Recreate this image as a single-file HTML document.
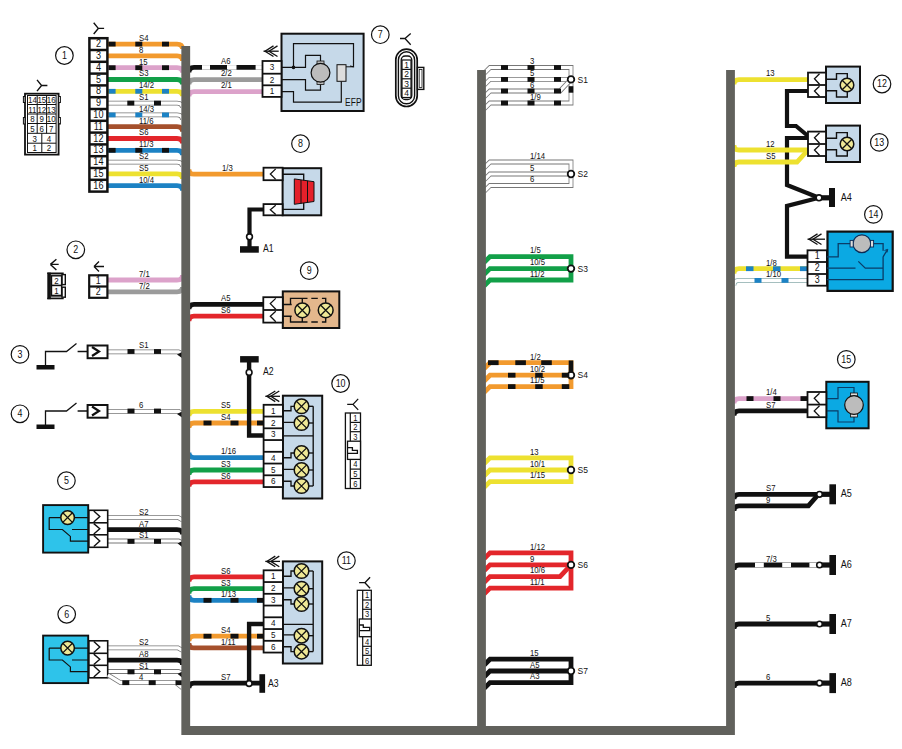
<!DOCTYPE html><html><head><meta charset="utf-8"><style>html,body{margin:0;padding:0;background:#fff;}svg{display:block;font-family:"Liberation Sans",sans-serif;}</style></head><body>
<svg width="902" height="749" viewBox="0 0 902 749">
<path d="M108,44.10H177Q182.5,44.10 182.5,49.10" stroke="#f29a2e" stroke-width="4.8" fill="none" stroke-linejoin="miter"/>
<rect x="108.60" y="41.70" width="7" height="4.8" fill="#111"/>
<rect x="135.30" y="41.70" width="7" height="4.8" fill="#111"/>
<rect x="162.00" y="41.70" width="7" height="4.8" fill="#111"/>
<text transform="translate(139.00,40.90) scale(0.86,1)" font-size="9.02" text-anchor="start" fill="#111">S4</text>
<path d="M108,55.90H177Q182.5,55.90 182.5,60.90" stroke="#f29a2e" stroke-width="4.8" fill="none" stroke-linejoin="miter"/>
<text transform="translate(139.00,52.70) scale(0.86,1)" font-size="9.02" text-anchor="start" fill="#111">8</text>
<path d="M108,67.70H177Q182.5,67.70 182.5,72.70" stroke="#dca2ca" stroke-width="4.8" fill="none" stroke-linejoin="miter"/>
<rect x="108.60" y="65.30" width="7" height="4.8" fill="#111"/>
<rect x="135.30" y="65.30" width="7" height="4.8" fill="#111"/>
<rect x="162.00" y="65.30" width="7" height="4.8" fill="#111"/>
<text transform="translate(139.00,64.50) scale(0.86,1)" font-size="9.02" text-anchor="start" fill="#111">15</text>
<path d="M108,79.50H177Q182.5,79.50 182.5,84.50" stroke="#12a048" stroke-width="4.8" fill="none" stroke-linejoin="miter"/>
<text transform="translate(139.00,76.30) scale(0.86,1)" font-size="9.02" text-anchor="start" fill="#111">S3</text>
<path d="M108,91.30H177Q182.5,91.30 182.5,96.30" stroke="#ede130" stroke-width="4.8" fill="none" stroke-linejoin="miter"/>
<rect x="108.60" y="88.90" width="7" height="4.8" fill="#1c82c4"/>
<rect x="135.30" y="88.90" width="7" height="4.8" fill="#1c82c4"/>
<rect x="162.00" y="88.90" width="7" height="4.8" fill="#1c82c4"/>
<text transform="translate(139.00,88.10) scale(0.86,1)" font-size="9.02" text-anchor="start" fill="#111">14/2</text>
<path d="M108,103.10H177Q182.5,103.10 182.5,108.10" stroke="#777" stroke-width="4.8" fill="none" stroke-linejoin="miter"/>
<path d="M108,103.10H177Q182.5,103.10 182.5,108.10" stroke="#fff" stroke-width="3.1999999999999997" fill="none" stroke-linejoin="miter"/>
<rect x="127.30" y="100.70" width="7" height="4.8" fill="#111"/>
<rect x="154.00" y="100.70" width="7" height="4.8" fill="#111"/>
<text transform="translate(139.00,99.90) scale(0.86,1)" font-size="9.02" text-anchor="start" fill="#111">S1</text>
<path d="M108,114.90H177Q182.5,114.90 182.5,119.90" stroke="#777" stroke-width="4.8" fill="none" stroke-linejoin="miter"/>
<path d="M108,114.90H177Q182.5,114.90 182.5,119.90" stroke="#fff" stroke-width="3.1999999999999997" fill="none" stroke-linejoin="miter"/>
<rect x="108.60" y="112.50" width="7" height="4.8" fill="#1c82c4"/>
<rect x="135.30" y="112.50" width="7" height="4.8" fill="#1c82c4"/>
<rect x="162.00" y="112.50" width="7" height="4.8" fill="#1c82c4"/>
<text transform="translate(139.00,111.70) scale(0.86,1)" font-size="9.02" text-anchor="start" fill="#111">14/3</text>
<path d="M108,126.70H177Q182.5,126.70 182.5,131.70" stroke="#a5502c" stroke-width="4.8" fill="none" stroke-linejoin="miter"/>
<text transform="translate(139.00,123.50) scale(0.86,1)" font-size="9.02" text-anchor="start" fill="#111">11/6</text>
<path d="M108,138.50H177Q182.5,138.50 182.5,143.50" stroke="#e3262b" stroke-width="4.8" fill="none" stroke-linejoin="miter"/>
<text transform="translate(139.00,135.30) scale(0.86,1)" font-size="9.02" text-anchor="start" fill="#111">S6</text>
<path d="M108,150.30H177Q182.5,150.30 182.5,155.30" stroke="#1c82c4" stroke-width="4.8" fill="none" stroke-linejoin="miter"/>
<rect x="108.60" y="147.90" width="7" height="4.8" fill="#111"/>
<rect x="135.30" y="147.90" width="7" height="4.8" fill="#111"/>
<rect x="162.00" y="147.90" width="7" height="4.8" fill="#111"/>
<text transform="translate(139.00,147.10) scale(0.86,1)" font-size="9.02" text-anchor="start" fill="#111">11/3</text>
<path d="M108,162.10H177Q182.5,162.10 182.5,167.10" stroke="#777" stroke-width="4.8" fill="none" stroke-linejoin="miter"/>
<path d="M108,162.10H177Q182.5,162.10 182.5,167.10" stroke="#fff" stroke-width="3.1999999999999997" fill="none" stroke-linejoin="miter"/>
<text transform="translate(139.00,158.90) scale(0.86,1)" font-size="9.02" text-anchor="start" fill="#111">S2</text>
<path d="M108,173.90H177Q182.5,173.90 182.5,178.90" stroke="#ede130" stroke-width="4.8" fill="none" stroke-linejoin="miter"/>
<text transform="translate(139.00,170.70) scale(0.86,1)" font-size="9.02" text-anchor="start" fill="#111">S5</text>
<path d="M108,185.70H177Q182.5,185.70 182.5,190.70" stroke="#1c82c4" stroke-width="4.8" fill="none" stroke-linejoin="miter"/>
<text transform="translate(139.00,182.50) scale(0.86,1)" font-size="9.02" text-anchor="start" fill="#111">10/4</text>
<rect x="89.4" y="38.2" width="18.00" height="153.40" fill="#fff" stroke="#111" stroke-width="2.5"/>
<path d="M89.4,50.0H107.4" stroke="#111" stroke-width="2.5" fill="none"/>
<path d="M89.4,61.800000000000004H107.4" stroke="#111" stroke-width="2.5" fill="none"/>
<path d="M89.4,73.60000000000001H107.4" stroke="#111" stroke-width="2.5" fill="none"/>
<path d="M89.4,85.4H107.4" stroke="#111" stroke-width="2.5" fill="none"/>
<path d="M89.4,97.2H107.4" stroke="#111" stroke-width="2.5" fill="none"/>
<path d="M89.4,109.00000000000001H107.4" stroke="#111" stroke-width="2.5" fill="none"/>
<path d="M89.4,120.80000000000001H107.4" stroke="#111" stroke-width="2.5" fill="none"/>
<path d="M89.4,132.60000000000002H107.4" stroke="#111" stroke-width="2.5" fill="none"/>
<path d="M89.4,144.4H107.4" stroke="#111" stroke-width="2.5" fill="none"/>
<path d="M89.4,156.2H107.4" stroke="#111" stroke-width="2.5" fill="none"/>
<path d="M89.4,168.0H107.4" stroke="#111" stroke-width="2.5" fill="none"/>
<path d="M89.4,179.8H107.4" stroke="#111" stroke-width="2.5" fill="none"/>
<text transform="translate(98.40,47.20) scale(0.86,1)" font-size="10.56" text-anchor="middle" fill="#111">2</text>
<text transform="translate(98.40,59.00) scale(0.86,1)" font-size="10.56" text-anchor="middle" fill="#111">3</text>
<text transform="translate(98.40,70.80) scale(0.86,1)" font-size="10.56" text-anchor="middle" fill="#111">4</text>
<text transform="translate(98.40,82.60) scale(0.86,1)" font-size="10.56" text-anchor="middle" fill="#111">5</text>
<text transform="translate(98.40,94.40) scale(0.86,1)" font-size="10.56" text-anchor="middle" fill="#111">8</text>
<text transform="translate(98.40,106.20) scale(0.86,1)" font-size="10.56" text-anchor="middle" fill="#111">9</text>
<text transform="translate(98.40,118.00) scale(0.86,1)" font-size="10.56" text-anchor="middle" fill="#111">10</text>
<text transform="translate(98.40,129.80) scale(0.86,1)" font-size="10.56" text-anchor="middle" fill="#111">11</text>
<text transform="translate(98.40,141.60) scale(0.86,1)" font-size="10.56" text-anchor="middle" fill="#111">12</text>
<text transform="translate(98.40,153.40) scale(0.86,1)" font-size="10.56" text-anchor="middle" fill="#111">13</text>
<text transform="translate(98.40,165.20) scale(0.86,1)" font-size="10.56" text-anchor="middle" fill="#111">14</text>
<text transform="translate(98.40,177.00) scale(0.86,1)" font-size="10.56" text-anchor="middle" fill="#111">15</text>
<text transform="translate(98.40,188.80) scale(0.86,1)" font-size="10.56" text-anchor="middle" fill="#111">16</text>
<path d="M93.7,22.799999999999997L98.3,28.4L93.7,34.0M98.3,28.4H104.1" stroke="#111" stroke-width="1.4" fill="none"/>
<circle cx="64.4" cy="55.5" r="8.8" fill="#fff" stroke="#111" stroke-width="1.2"/>
<text transform="translate(64.40,58.90) scale(0.86,1)" font-size="10.34" text-anchor="middle" fill="#111">1</text>
<rect x="25" y="93.7" width="33.60" height="60.90" fill="#fff" stroke="#111" stroke-width="1.8"/>
<rect x="27.5" y="95.5" width="28.60" height="57.00" fill="#fff" stroke="#111" stroke-width="1.0"/>
<rect x="23.4" y="96.5" width="1.60" height="6.00" fill="#fff" stroke="#111" stroke-width="1.0"/>
<rect x="58.6" y="96.5" width="1.80" height="6.00" fill="#fff" stroke="#111" stroke-width="1.0"/>
<rect x="23.4" y="117.5" width="1.60" height="6.50" fill="#fff" stroke="#111" stroke-width="1.0"/>
<rect x="58.6" y="117.5" width="1.80" height="6.50" fill="#fff" stroke="#111" stroke-width="1.0"/>
<path d="M27.5,104.5H56.1" stroke="#111" stroke-width="1.0" fill="none"/>
<path d="M27.5,114H56.1" stroke="#111" stroke-width="1.0" fill="none"/>
<path d="M27.5,123.5H56.1" stroke="#111" stroke-width="1.0" fill="none"/>
<path d="M27.5,133.3H56.1" stroke="#111" stroke-width="1.0" fill="none"/>
<path d="M27.5,143.2H56.1" stroke="#111" stroke-width="1.0" fill="none"/>
<path d="M37.2,95.5V104.5M46.6,95.5V104.5" stroke="#111" stroke-width="1.0" fill="none"/>
<path d="M37.2,104.5V114M46.6,104.5V114" stroke="#111" stroke-width="1.0" fill="none"/>
<path d="M37.2,114V123.5M46.6,114V123.5" stroke="#111" stroke-width="1.0" fill="none"/>
<path d="M37.2,123.5V133.3M46.6,123.5V133.3" stroke="#111" stroke-width="1.0" fill="none"/>
<path d="M41.8,133.3V143.2" stroke="#111" stroke-width="1.0" fill="none"/>
<path d="M41.8,143.2V152.5" stroke="#111" stroke-width="1.0" fill="none"/>
<text transform="translate(32.40,103.30) scale(0.86,1)" font-size="9.24" text-anchor="middle" fill="#111">14</text>
<text transform="translate(41.80,103.30) scale(0.86,1)" font-size="9.24" text-anchor="middle" fill="#111">15</text>
<text transform="translate(51.20,103.30) scale(0.86,1)" font-size="9.24" text-anchor="middle" fill="#111">16</text>
<text transform="translate(32.40,112.55) scale(0.86,1)" font-size="9.24" text-anchor="middle" fill="#111">11</text>
<text transform="translate(41.80,112.55) scale(0.86,1)" font-size="9.24" text-anchor="middle" fill="#111">12</text>
<text transform="translate(51.20,112.55) scale(0.86,1)" font-size="9.24" text-anchor="middle" fill="#111">13</text>
<text transform="translate(32.40,122.05) scale(0.86,1)" font-size="9.24" text-anchor="middle" fill="#111">8</text>
<text transform="translate(41.80,122.05) scale(0.86,1)" font-size="9.24" text-anchor="middle" fill="#111">9</text>
<text transform="translate(51.20,122.05) scale(0.86,1)" font-size="9.24" text-anchor="middle" fill="#111">10</text>
<text transform="translate(32.40,131.70) scale(0.86,1)" font-size="9.24" text-anchor="middle" fill="#111">5</text>
<text transform="translate(41.80,131.70) scale(0.86,1)" font-size="9.24" text-anchor="middle" fill="#111">6</text>
<text transform="translate(51.20,131.70) scale(0.86,1)" font-size="9.24" text-anchor="middle" fill="#111">7</text>
<text transform="translate(34.60,141.55) scale(0.86,1)" font-size="9.24" text-anchor="middle" fill="#111">3</text>
<text transform="translate(49.00,141.55) scale(0.86,1)" font-size="9.24" text-anchor="middle" fill="#111">4</text>
<text transform="translate(34.60,151.15) scale(0.86,1)" font-size="9.24" text-anchor="middle" fill="#111">1</text>
<text transform="translate(49.00,151.15) scale(0.86,1)" font-size="9.24" text-anchor="middle" fill="#111">2</text>
<path d="M37.0,79.9L41.6,85.5L37.0,91.1M41.6,85.5H47.4" stroke="#111" stroke-width="1.4" fill="none"/>
<circle cx="75.8" cy="249.8" r="8.8" fill="#fff" stroke="#111" stroke-width="1.2"/>
<text transform="translate(75.80,253.20) scale(0.86,1)" font-size="10.34" text-anchor="middle" fill="#111">2</text>
<path d="M108,280H177Q182.5,280 182.5,275" stroke="#dca2ca" stroke-width="4.8" fill="none" stroke-linejoin="miter"/>
<path d="M108,291.8H177Q182.5,291.8 182.5,287" stroke="#9b9b9b" stroke-width="4.8" fill="none" stroke-linejoin="miter"/>
<text transform="translate(139.00,276.90) scale(0.86,1)" font-size="9.02" text-anchor="start" fill="#111">7/1</text>
<text transform="translate(139.00,288.70) scale(0.86,1)" font-size="9.02" text-anchor="start" fill="#111">7/2</text>
<rect x="89.2" y="275.3" width="18.20" height="22.50" fill="#fff" stroke="#111" stroke-width="2.2"/>
<path d="M89.2,286.5H107.4" stroke="#111" stroke-width="2.2" fill="none"/>
<text transform="translate(98.30,284.00) scale(0.86,1)" font-size="10.34" text-anchor="middle" fill="#111">1</text>
<text transform="translate(98.30,295.25) scale(0.86,1)" font-size="10.34" text-anchor="middle" fill="#111">2</text>
<path d="M94,266.5H104M94,266.5L99,261.5M94,266.5L99,271.5" stroke="#111" stroke-width="1.3" fill="none"/>
<rect x="47.3" y="272.6" width="3.6" height="26.6" fill="#111"/>
<path d="M47.3,273.3H63.7M47.3,298.5H63.7" stroke="#111" stroke-width="1.6" fill="none"/>
<rect x="62" y="274.6" width="3.30" height="10.00" fill="#fff" stroke="#111" stroke-width="1.4"/>
<rect x="62" y="287.2" width="3.30" height="10.00" fill="#fff" stroke="#111" stroke-width="1.4"/>
<path d="M50.9,275H62M50.9,296.8H62" stroke="#111" stroke-width="0.9" fill="none"/>
<rect x="51.5" y="275.8" width="10.10" height="9.70" fill="#fff" stroke="#111" stroke-width="1.4"/>
<rect x="51.5" y="285.5" width="10.10" height="9.90" fill="#fff" stroke="#111" stroke-width="1.4"/>
<text transform="translate(56.50,283.60) scale(0.86,1)" font-size="9.24" text-anchor="middle" fill="#111">2</text>
<text transform="translate(56.50,293.60) scale(0.86,1)" font-size="9.24" text-anchor="middle" fill="#111">1</text>
<path d="M50.4,264.4H58.7M50.4,264.4L56.4,259.3M50.4,264.4L56.4,270" stroke="#111" stroke-width="1.4" fill="none"/>
<circle cx="20" cy="354.4" r="8.8" fill="#fff" stroke="#111" stroke-width="1.2"/>
<text transform="translate(20.00,357.80) scale(0.86,1)" font-size="10.34" text-anchor="middle" fill="#111">3</text>
<rect x="36.5" y="365.0" width="18" height="4.5" fill="#111"/>
<path d="M45.5,365.5V351.5H66.5L76.5,343.5M77.6,351.5H87.6" stroke="#111" stroke-width="1.3" fill="none"/>
<path d="M107,351.9H178.5L182.5,353.9" stroke="#777" stroke-width="4.8" fill="none" stroke-linejoin="miter"/>
<path d="M107,351.9H178.5L182.5,353.9" stroke="#fff" stroke-width="3.1999999999999997" fill="none" stroke-linejoin="miter"/>
<path d="M177,354.4L182.0,352.1V358.0Z" fill="#111"/>
<rect x="127.50" y="349.10" width="7" height="4.8" fill="#111"/>
<rect x="154.00" y="349.10" width="7" height="4.8" fill="#111"/>
<rect x="87.6" y="345.5" width="19.90" height="12.70" fill="#fff" stroke="#111" stroke-width="2.0"/>
<path d="M92,347.0L99,351.5L92,356.0" stroke="#111" stroke-width="2.2" fill="none"/>
<circle cx="20" cy="413.8" r="8.8" fill="#fff" stroke="#111" stroke-width="1.2"/>
<text transform="translate(20.00,417.20) scale(0.86,1)" font-size="10.34" text-anchor="middle" fill="#111">4</text>
<rect x="36.5" y="424.5" width="18" height="4.5" fill="#111"/>
<path d="M45.5,425.0V411.0H66.5L76.5,403.0M77.6,411.0H87.6" stroke="#111" stroke-width="1.3" fill="none"/>
<path d="M107,411.4H178.5L182.5,413.4" stroke="#777" stroke-width="4.8" fill="none" stroke-linejoin="miter"/>
<path d="M107,411.4H178.5L182.5,413.4" stroke="#fff" stroke-width="3.1999999999999997" fill="none" stroke-linejoin="miter"/>
<path d="M177,413.9L182.0,411.6V417.5Z" fill="#111"/>
<rect x="127.50" y="408.60" width="7" height="4.8" fill="#111"/>
<rect x="154.00" y="408.60" width="7" height="4.8" fill="#111"/>
<rect x="87.6" y="405.0" width="19.90" height="12.70" fill="#fff" stroke="#111" stroke-width="2.0"/>
<path d="M92,406.5L99,411.0L92,415.5" stroke="#111" stroke-width="2.2" fill="none"/>
<text transform="translate(139.00,348.30) scale(0.86,1)" font-size="9.02" text-anchor="start" fill="#111">S1</text>
<text transform="translate(139.00,407.90) scale(0.86,1)" font-size="9.02" text-anchor="start" fill="#111">6</text>
<circle cx="66.4" cy="480.7" r="8.8" fill="#fff" stroke="#111" stroke-width="1.2"/>
<text transform="translate(66.40,484.10) scale(0.86,1)" font-size="10.34" text-anchor="middle" fill="#111">5</text>
<path d="M107,517.40H178L182.5,520.00" stroke="#777" stroke-width="4.8" fill="none" stroke-linejoin="miter"/>
<path d="M107,517.40H178L182.5,520.00" stroke="#fff" stroke-width="3.1999999999999997" fill="none" stroke-linejoin="miter"/>
<path d="M107,529.70H177Q182.5,529.70 182.5,534.50" stroke="#111" stroke-width="4.8" fill="none" stroke-linejoin="miter"/>
<path d="M107,541.00H178.5L182.5,543.00" stroke="#777" stroke-width="4.8" fill="none" stroke-linejoin="miter"/>
<path d="M107,541.00H178.5L182.5,543.00" stroke="#fff" stroke-width="3.1999999999999997" fill="none" stroke-linejoin="miter"/>
<path d="M177.5,543.30L182.0,541.20V547.00Z" fill="#111"/>
<rect x="127.50" y="539.00" width="7" height="4.8" fill="#111"/>
<rect x="154.00" y="539.00" width="7" height="4.8" fill="#111"/>
<text transform="translate(139.00,514.70) scale(0.86,1)" font-size="9.02" text-anchor="start" fill="#111">S2</text>
<text transform="translate(139.00,526.50) scale(0.86,1)" font-size="9.02" text-anchor="start" fill="#111">A7</text>
<text transform="translate(139.00,538.20) scale(0.86,1)" font-size="9.02" text-anchor="start" fill="#111">S1</text>
<rect x="43.1" y="505.1" width="45.10" height="47.50" fill="#2ec3ea" stroke="#111" stroke-width="1.9"/>
<path d="M49.2,517.6H88.9M49.2,517.6V529.5H62.4L70.4,536.4V541.2H88.9M72,529.5H88.9" stroke="#111" stroke-width="1.2" fill="none"/>
<circle cx="67.6" cy="517.6" r="6.8" fill="#efe896" stroke="#111" stroke-width="1.5"/>
<path d="M62.79,512.79L72.41,522.41M72.41,512.79L62.79,522.41" stroke="#111" stroke-width="1.3"/>
<rect x="88.9" y="510.3" width="18.80" height="37.00" fill="#fff" stroke="#111" stroke-width="1.6"/>
<path d="M88.9,522.8H107.7" stroke="#111" stroke-width="1.6" fill="none"/>
<path d="M88.9,534.8H107.7" stroke="#111" stroke-width="1.6" fill="none"/>
<path d="M93.79,511.10L99.80,516.55L93.79,522.00" stroke="#111" stroke-width="1.4" fill="none"/>
<path d="M93.79,523.60L99.80,528.80L93.79,534.00" stroke="#111" stroke-width="1.4" fill="none"/>
<path d="M93.79,535.60L99.80,541.05L93.79,546.50" stroke="#111" stroke-width="1.4" fill="none"/>
<circle cx="66.7" cy="614.3" r="8.8" fill="#fff" stroke="#111" stroke-width="1.2"/>
<text transform="translate(66.70,617.70) scale(0.86,1)" font-size="10.34" text-anchor="middle" fill="#111">6</text>
<path d="M107,647.90H178L182.5,650.50" stroke="#777" stroke-width="4.8" fill="none" stroke-linejoin="miter"/>
<path d="M107,647.90H178L182.5,650.50" stroke="#fff" stroke-width="3.1999999999999997" fill="none" stroke-linejoin="miter"/>
<path d="M107,660.20H177Q182.5,660.20 182.5,665.00" stroke="#111" stroke-width="4.8" fill="none" stroke-linejoin="miter"/>
<path d="M107,671.50H178.5L182.5,673.50" stroke="#777" stroke-width="4.8" fill="none" stroke-linejoin="miter"/>
<path d="M107,671.50H178.5L182.5,673.50" stroke="#fff" stroke-width="3.1999999999999997" fill="none" stroke-linejoin="miter"/>
<path d="M177.5,673.80L182.0,671.70V677.50Z" fill="#111"/>
<rect x="127.50" y="669.50" width="7" height="4.8" fill="#111"/>
<rect x="154.00" y="669.50" width="7" height="4.8" fill="#111"/>
<text transform="translate(139.00,645.20) scale(0.86,1)" font-size="9.02" text-anchor="start" fill="#111">S2</text>
<text transform="translate(139.00,657.00) scale(0.86,1)" font-size="9.02" text-anchor="start" fill="#111">A8</text>
<text transform="translate(139.00,668.70) scale(0.86,1)" font-size="9.02" text-anchor="start" fill="#111">S1</text>
<rect x="43.1" y="635.6" width="45.10" height="47.50" fill="#2ec3ea" stroke="#111" stroke-width="1.9"/>
<path d="M49.2,648.1H88.9M49.2,648.1V660.0H62.4L70.4,666.9V671.7H88.9M72,660.0H88.9" stroke="#111" stroke-width="1.2" fill="none"/>
<circle cx="67.6" cy="648.1" r="6.8" fill="#efe896" stroke="#111" stroke-width="1.5"/>
<path d="M62.79,643.29L72.41,652.91M72.41,643.29L62.79,652.91" stroke="#111" stroke-width="1.3"/>
<rect x="88.9" y="640.8" width="18.80" height="37.00" fill="#fff" stroke="#111" stroke-width="1.6"/>
<path d="M88.9,653.3H107.7" stroke="#111" stroke-width="1.6" fill="none"/>
<path d="M88.9,665.3H107.7" stroke="#111" stroke-width="1.6" fill="none"/>
<path d="M93.79,641.60L99.80,647.05L93.79,652.50" stroke="#111" stroke-width="1.4" fill="none"/>
<path d="M93.79,654.10L99.80,659.30L93.79,664.50" stroke="#111" stroke-width="1.4" fill="none"/>
<path d="M93.79,666.10L99.80,671.55L93.79,677.00" stroke="#111" stroke-width="1.4" fill="none"/>
<path d="M108,675L120.5,682.7H176L182.5,688" stroke="#777" stroke-width="4.8" fill="none" stroke-linejoin="miter"/>
<path d="M108,675L120.5,682.7H176L182.5,688" stroke="#fff" stroke-width="3.1999999999999997" fill="none" stroke-linejoin="miter"/>
<rect x="122.30" y="680.30" width="7" height="4.8" fill="#111"/>
<rect x="148.70" y="680.30" width="7" height="4.8" fill="#111"/>
<rect x="175.50" y="680.30" width="7" height="4.8" fill="#111"/>
<text transform="translate(139.00,679.70) scale(0.86,1)" font-size="9.02" text-anchor="start" fill="#111">4</text>
<path d="M189.0,72.40Q189.0,67.40 194.0,67.40H263.5" stroke="#111" stroke-width="4.8" fill="none" stroke-linejoin="miter"/>
<rect x="202" y="65.10000000000001" width="8" height="4.6" fill="#fff"/><rect x="227" y="65.10000000000001" width="9.5" height="4.6" fill="#fff"/><rect x="255.6" y="65.10000000000001" width="8" height="4.6" fill="#fff"/>
<path d="M189.0,84.60Q189.0,79.60 194.0,79.60H263.5" stroke="#9b9b9b" stroke-width="4.8" fill="none" stroke-linejoin="miter"/>
<path d="M189.0,96.60Q189.0,91.60 194.0,91.60H263.5" stroke="#dca2ca" stroke-width="4.8" fill="none" stroke-linejoin="miter"/>
<text transform="translate(221.00,64.20) scale(0.86,1)" font-size="9.02" text-anchor="start" fill="#111">A6</text>
<text transform="translate(221.00,76.40) scale(0.86,1)" font-size="9.02" text-anchor="start" fill="#111">2/2</text>
<text transform="translate(221.00,88.40) scale(0.86,1)" font-size="9.02" text-anchor="start" fill="#111">2/1</text>
<rect x="281.5" y="33.7" width="82.10" height="77.30" fill="#c6d9e9" stroke="#111" stroke-width="2.0"/>
<rect x="262.5" y="61" width="19.00" height="35.90" fill="#fff" stroke="#111" stroke-width="1.8"/>
<path d="M262.5,73.7H281.5" stroke="#111" stroke-width="1.8" fill="none"/>
<path d="M262.5,85.3H281.5" stroke="#111" stroke-width="1.8" fill="none"/>
<text transform="translate(272.00,70.45) scale(0.86,1)" font-size="9.46" text-anchor="middle" fill="#111">3</text>
<text transform="translate(272.00,82.60) scale(0.86,1)" font-size="9.46" text-anchor="middle" fill="#111">2</text>
<text transform="translate(272.00,94.20) scale(0.86,1)" font-size="9.46" text-anchor="middle" fill="#111">1</text>
<path d="M263.5,51.2H278.7" stroke="#111" stroke-width="1.3" fill="none"/>
<path d="M277.5,45.900000000000006L269,51.2L277.5,56.5M273.5,45.900000000000006L265,51.2L273.5,56.5" stroke="#111" stroke-width="1.3" fill="none"/>
<path d="M281.5,67.4H305.5V55.4H320.5V63M293.5,67.4V43.6H353.5V66.8L350,66" stroke="#111" stroke-width="1.2" fill="none"/>
<path d="M281.5,79.6H305.5V90.1H320.5V82M281.5,91.6H293.5V102.2H341.3V81.3" stroke="#111" stroke-width="1.2" fill="none"/>
<circle cx="293.5" cy="67.4" r="1.8" fill="#111"/>
<rect x="317" y="61" width="7" height="3" fill="#bbb" stroke="#111" stroke-width="0.8"/><rect x="317" y="81.5" width="7" height="3" fill="#bbb" stroke="#111" stroke-width="0.8"/>
<circle cx="320.5" cy="72.7" r="9.4" fill="#bcbcbc" stroke="#111" stroke-width="1.2"/>
<rect x="337" y="64.7" width="9.00" height="16.60" fill="#ddd" stroke="#111" stroke-width="1.0"/>
<path d="M353.5,66.8H346" stroke="#111" stroke-width="1.0" fill="none"/>
<text transform="translate(353.30,105.80) scale(0.8,1)" font-size="10.56" text-anchor="middle" fill="#111">EFP</text>
<circle cx="380.3" cy="34.7" r="8.8" fill="#fff" stroke="#111" stroke-width="1.2"/>
<text transform="translate(380.30,38.10) scale(0.86,1)" font-size="10.34" text-anchor="middle" fill="#111">7</text>
<path d="M400,38.5H405M405,38.5L410.7,33.4M405,38.5L410.7,44.7" stroke="#111" stroke-width="1.3" fill="none"/>
<rect x="395.8" y="49.1" width="21.4" height="57.4" rx="10.7" fill="#fff" stroke="#111" stroke-width="1.7"/>
<rect x="398.4" y="51.8" width="16.2" height="52" rx="8.1" fill="#fff" stroke="#111" stroke-width="1.4"/>
<rect x="401.2" y="56" width="10.6" height="43.5" rx="4" fill="#fff" stroke="#111" stroke-width="1.3"/>
<rect x="402" y="60" width="9.00" height="37.50" fill="#fff" stroke="#111" stroke-width="1.2"/>
<path d="M402,69.4H411" stroke="#111" stroke-width="1.2" fill="none"/>
<path d="M402,78.8H411" stroke="#111" stroke-width="1.2" fill="none"/>
<path d="M402,88.2H411" stroke="#111" stroke-width="1.2" fill="none"/>
<text transform="translate(406.50,67.80) scale(0.86,1)" font-size="9.90" text-anchor="middle" fill="#111">1</text>
<text transform="translate(406.50,77.20) scale(0.86,1)" font-size="9.90" text-anchor="middle" fill="#111">2</text>
<text transform="translate(406.50,86.60) scale(0.86,1)" font-size="9.90" text-anchor="middle" fill="#111">3</text>
<text transform="translate(406.50,95.95) scale(0.86,1)" font-size="9.90" text-anchor="middle" fill="#111">4</text>
<rect x="417.4" y="67.4" width="6.40" height="22.00" fill="#fff" stroke="#111" stroke-width="1.4"/>
<rect x="419.2" y="69.4" width="2.80" height="18.00" fill="#fff" stroke="#111" stroke-width="0.8"/>
<path d="M189.0,169.20Q189.0,174.20 194.0,174.20H263.5" stroke="#f29a2e" stroke-width="4.8" fill="none" stroke-linejoin="miter"/>
<text transform="translate(222.00,170.90) scale(0.86,1)" font-size="9.02" text-anchor="start" fill="#111">1/3</text>
<circle cx="300.5" cy="143.7" r="8.8" fill="#fff" stroke="#111" stroke-width="1.2"/>
<text transform="translate(300.50,147.10) scale(0.86,1)" font-size="10.34" text-anchor="middle" fill="#111">8</text>
<rect x="282.6" y="168.2" width="38.60" height="47.10" fill="#c6d9e9" stroke="#111" stroke-width="2.0"/>
<path d="M282.6,174.2H303.7V209.3H282.6" stroke="#111" stroke-width="1.35" fill="none"/>
<path d="M294.3,178.9L314,181.7V201.5L294.3,204.3Z" fill="#e4202a" stroke="#111" stroke-width="1"/>
<path d="M301,180V203.5M307.5,180.8V202.7" stroke="#111" stroke-width="1.0" fill="none"/>
<rect x="263.5" y="167.7" width="19.10" height="12.50" fill="#fff" stroke="#111" stroke-width="1.8"/>
<path d="M275.72,168.90L270.38,173.95L275.72,179.40" stroke="#111" stroke-width="1.3" fill="none"/>
<rect x="263.5" y="204.1" width="19.10" height="11.20" fill="#fff" stroke="#111" stroke-width="1.8"/>
<path d="M275.72,205.30L270.38,209.70L275.72,214.50" stroke="#111" stroke-width="1.3" fill="none"/>
<path d="M263.5,209.5H249.5V247" stroke="#111" stroke-width="4.2" fill="none" stroke-linejoin="miter"/>
<circle cx="249.5" cy="236.8" r="2.9" fill="#fff" stroke="#111" stroke-width="1.6"/>
<rect x="240.0" y="246.2" width="18.8" height="6.5" fill="#111"/>
<text transform="translate(263.00,251.50) scale(0.86,1)" font-size="10.12" text-anchor="start" fill="#111">A1</text>
<path d="M189.0,309.30Q189.0,304.30 194.0,304.30H263.5" stroke="#111" stroke-width="4.8" fill="none" stroke-linejoin="miter"/>
<path d="M189.0,321.20Q189.0,316.20 194.0,316.20H263.5" stroke="#e3262b" stroke-width="4.8" fill="none" stroke-linejoin="miter"/>
<text transform="translate(221.00,301.10) scale(0.86,1)" font-size="9.02" text-anchor="start" fill="#111">A5</text>
<text transform="translate(221.00,313.00) scale(0.86,1)" font-size="9.02" text-anchor="start" fill="#111">S6</text>
<circle cx="309.2" cy="270.6" r="8.8" fill="#fff" stroke="#111" stroke-width="1.2"/>
<text transform="translate(309.20,274.00) scale(0.86,1)" font-size="10.34" text-anchor="middle" fill="#111">9</text>
<rect x="282.8" y="291.4" width="56.50" height="36.60" fill="#e3b78c" stroke="#111" stroke-width="2.0"/>
<path d="M282.8,304.5H291.7M290.5,305V298.3H307.5M311.3,298.3H317.8M321.9,298.3H325.7V303.5M302.3,298.3V303.5" stroke="#111" stroke-width="1.35" fill="none"/>
<path d="M282.8,316.2H291.7M290.5,315.7V322H307.5M311.3,322H317.8M321.9,322H325.7V317M302.3,322.6V317" stroke="#111" stroke-width="1.35" fill="none"/>
<circle cx="302.3" cy="310.3" r="7.4" fill="#efe896" stroke="#111" stroke-width="1.5"/>
<path d="M297.07,305.07L307.53,315.53M307.53,305.07L297.07,315.53" stroke="#111" stroke-width="1.3"/>
<circle cx="325.7" cy="310.3" r="7.4" fill="#efe896" stroke="#111" stroke-width="1.5"/>
<path d="M320.47,305.07L330.93,315.53M330.93,305.07L320.47,315.53" stroke="#111" stroke-width="1.3"/>
<rect x="263.3" y="297.2" width="19.50" height="25.40" fill="#fff" stroke="#111" stroke-width="1.8"/>
<path d="M263.3,310H282.8" stroke="#111" stroke-width="1.8" fill="none"/>
<path d="M275.78,298.40L270.32,303.60L275.78,309.20" stroke="#111" stroke-width="1.3" fill="none"/>
<path d="M275.78,311.20L270.32,316.30L275.78,321.80" stroke="#111" stroke-width="1.3" fill="none"/>
<circle cx="340.6" cy="383.5" r="8.8" fill="#fff" stroke="#111" stroke-width="1.2"/>
<text transform="translate(340.60,386.90) scale(0.86,1)" font-size="10.34" text-anchor="middle" fill="#111">10</text>
<path d="M189.0,416.30Q189.0,411.30 194.0,411.30H263.5" stroke="#ede130" stroke-width="4.8" fill="none" stroke-linejoin="miter"/>
<path d="M189.0,428.00Q189.0,423.00 194.0,423.00H263.5" stroke="#f29a2e" stroke-width="4.8" fill="none" stroke-linejoin="miter"/>
<rect x="203.50" y="420.60" width="8" height="4.8" fill="#111"/>
<rect x="230.50" y="420.60" width="8" height="4.8" fill="#111"/>
<rect x="257.00" y="420.60" width="8" height="4.8" fill="#111"/>
<path d="M189.0,452.60Q189.0,457.60 194.0,457.60H263.5" stroke="#1c82c4" stroke-width="4.8" fill="none" stroke-linejoin="miter"/>
<path d="M189.0,475.00Q189.0,470.00 194.0,470.00H263.5" stroke="#12a048" stroke-width="4.8" fill="none" stroke-linejoin="miter"/>
<path d="M189.0,486.80Q189.0,481.80 194.0,481.80H263.5" stroke="#e3262b" stroke-width="4.8" fill="none" stroke-linejoin="miter"/>
<text transform="translate(221.00,408.10) scale(0.86,1)" font-size="9.02" text-anchor="start" fill="#111">S5</text>
<text transform="translate(221.00,419.80) scale(0.86,1)" font-size="9.02" text-anchor="start" fill="#111">S4</text>
<text transform="translate(221.00,454.40) scale(0.86,1)" font-size="9.02" text-anchor="start" fill="#111">1/16</text>
<text transform="translate(221.00,466.80) scale(0.86,1)" font-size="9.02" text-anchor="start" fill="#111">S3</text>
<text transform="translate(221.00,478.60) scale(0.86,1)" font-size="9.02" text-anchor="start" fill="#111">S6</text>
<path d="M249.1,358V435.5H263.5" stroke="#111" stroke-width="4.4" fill="none" stroke-linejoin="miter"/>
<rect x="240.1" y="356.1" width="18.6" height="6.399999999999977" fill="#111"/>
<circle cx="249.1" cy="372.4" r="2.9" fill="#fff" stroke="#111" stroke-width="1.6"/>
<text transform="translate(263.00,375.00) scale(0.86,1)" font-size="10.12" text-anchor="start" fill="#111">A2</text>
<rect x="282.9" y="395.7" width="39.30" height="102.80" fill="#c6d9e9" stroke="#111" stroke-width="2.0"/>
<rect x="263.6" y="404.8" width="19.30" height="82.25" fill="#fff" stroke="#111" stroke-width="1.8"/>
<path d="M263.6,416.55H282.9" stroke="#111" stroke-width="1.8" fill="none"/>
<path d="M263.6,428.3H282.9" stroke="#111" stroke-width="1.8" fill="none"/>
<path d="M263.6,440.05H282.9" stroke="#111" stroke-width="1.8" fill="none"/>
<path d="M263.6,451.8H282.9" stroke="#111" stroke-width="1.8" fill="none"/>
<path d="M263.6,463.55H282.9" stroke="#111" stroke-width="1.8" fill="none"/>
<path d="M263.6,475.3H282.9" stroke="#111" stroke-width="1.8" fill="none"/>
<text transform="translate(273.25,413.78) scale(0.86,1)" font-size="9.46" text-anchor="middle" fill="#111">1</text>
<text transform="translate(273.25,425.53) scale(0.86,1)" font-size="9.46" text-anchor="middle" fill="#111">2</text>
<text transform="translate(273.25,437.28) scale(0.86,1)" font-size="9.46" text-anchor="middle" fill="#111">3</text>
<text transform="translate(273.25,460.78) scale(0.86,1)" font-size="9.46" text-anchor="middle" fill="#111">4</text>
<text transform="translate(273.25,472.53) scale(0.86,1)" font-size="9.46" text-anchor="middle" fill="#111">5</text>
<text transform="translate(273.25,484.28) scale(0.86,1)" font-size="9.46" text-anchor="middle" fill="#111">6</text>
<path d="M265.3,396.3H280" stroke="#111" stroke-width="1.3" fill="none"/>
<path d="M279.3,391.0L270.8,396.3L279.3,401.6M275.3,391.0L266.8,396.3L275.3,401.6" stroke="#111" stroke-width="1.3" fill="none"/>
<path d="M313.2,406.3V486M282.9,435.8H313.2" stroke="#111" stroke-width="1.35" fill="none"/>
<path d="M301.5,406.3H313.2" stroke="#111" stroke-width="1.35" fill="none"/>
<path d="M301.5,423H313.2" stroke="#111" stroke-width="1.35" fill="none"/>
<path d="M301.5,453H313.2" stroke="#111" stroke-width="1.35" fill="none"/>
<path d="M301.5,470H313.2" stroke="#111" stroke-width="1.35" fill="none"/>
<path d="M301.5,486H313.2" stroke="#111" stroke-width="1.35" fill="none"/>
<path d="M282.9,410.7H291V406.3H301.5M282.9,422.4H301.5" stroke="#111" stroke-width="1.35" fill="none"/>
<path d="M282.9,457.7H291V453H301.5M282.9,469.4H301.5M282.9,481.2H291V486H301.5" stroke="#111" stroke-width="1.35" fill="none"/>
<circle cx="301.5" cy="406.3" r="7.3" fill="#efe896" stroke="#111" stroke-width="1.5"/>
<path d="M296.34,401.14L306.66,411.46M306.66,401.14L296.34,411.46" stroke="#111" stroke-width="1.3"/>
<circle cx="301.5" cy="423" r="7.3" fill="#efe896" stroke="#111" stroke-width="1.5"/>
<path d="M296.34,417.84L306.66,428.16M306.66,417.84L296.34,428.16" stroke="#111" stroke-width="1.3"/>
<circle cx="301.5" cy="453" r="7.3" fill="#efe896" stroke="#111" stroke-width="1.5"/>
<path d="M296.34,447.84L306.66,458.16M306.66,447.84L296.34,458.16" stroke="#111" stroke-width="1.3"/>
<circle cx="301.5" cy="470" r="7.3" fill="#efe896" stroke="#111" stroke-width="1.5"/>
<path d="M296.34,464.84L306.66,475.16M306.66,464.84L296.34,475.16" stroke="#111" stroke-width="1.3"/>
<circle cx="301.5" cy="486" r="7.3" fill="#efe896" stroke="#111" stroke-width="1.5"/>
<path d="M296.34,480.84L306.66,491.16M306.66,480.84L296.34,491.16" stroke="#111" stroke-width="1.3"/>
<path d="M347.2,404.4H353.0M353.0,404.4L358.2,398.9M353.0,404.4L358.2,409.9" stroke="#111" stroke-width="1.3" fill="none"/>
<rect x="345.4" y="413" width="15.10" height="75.50" fill="#fff" stroke="#111" stroke-width="1.3"/>
<path d="M350.3,413V441.2M350.3,459.4V488.5" stroke="#111" stroke-width="1.2" fill="none"/>
<path d="M350.3,422.4H360.5" stroke="#111" stroke-width="1.2" fill="none"/>
<path d="M350.3,431.7H360.5" stroke="#111" stroke-width="1.2" fill="none"/>
<path d="M350.3,469.1H360.5" stroke="#111" stroke-width="1.2" fill="none"/>
<path d="M350.3,478.5H360.5" stroke="#111" stroke-width="1.2" fill="none"/>
<rect x="347.5" y="441.2" width="13.00" height="18.20" fill="#fff" stroke="#111" stroke-width="1.3"/>
<path d="M347.5,447.6H352.4V450.4H357.4V453.4H347.5" stroke="#111" stroke-width="1.3" fill="none"/>
<text transform="translate(355.40,420.90) scale(0.86,1)" font-size="8.80" text-anchor="middle" fill="#111">1</text>
<text transform="translate(355.40,430.25) scale(0.86,1)" font-size="8.80" text-anchor="middle" fill="#111">2</text>
<text transform="translate(355.40,439.65) scale(0.86,1)" font-size="8.80" text-anchor="middle" fill="#111">3</text>
<text transform="translate(355.40,467.45) scale(0.86,1)" font-size="8.80" text-anchor="middle" fill="#111">4</text>
<text transform="translate(355.40,477.00) scale(0.86,1)" font-size="8.80" text-anchor="middle" fill="#111">5</text>
<text transform="translate(355.40,486.70) scale(0.86,1)" font-size="8.80" text-anchor="middle" fill="#111">6</text>
<circle cx="346.4" cy="560.7" r="8.8" fill="#fff" stroke="#111" stroke-width="1.2"/>
<text transform="translate(346.40,564.10) scale(0.86,1)" font-size="10.34" text-anchor="middle" fill="#111">11</text>
<path d="M189.0,581.80Q189.0,576.80 194.0,576.80H263.5" stroke="#e3262b" stroke-width="4.8" fill="none" stroke-linejoin="miter"/>
<path d="M189.0,593.70Q189.0,588.70 194.0,588.70H263.5" stroke="#12a048" stroke-width="4.8" fill="none" stroke-linejoin="miter"/>
<path d="M189.0,595.30Q189.0,600.30 194.0,600.30H263.5" stroke="#1c82c4" stroke-width="4.8" fill="none" stroke-linejoin="miter"/>
<rect x="203.50" y="597.90" width="8" height="4.8" fill="#111"/>
<rect x="230.50" y="597.90" width="8" height="4.8" fill="#111"/>
<rect x="257.00" y="597.90" width="8" height="4.8" fill="#111"/>
<path d="M189.0,641.20Q189.0,636.20 194.0,636.20H263.5" stroke="#f29a2e" stroke-width="4.8" fill="none" stroke-linejoin="miter"/>
<rect x="203.50" y="633.80" width="8" height="4.8" fill="#111"/>
<rect x="230.50" y="633.80" width="8" height="4.8" fill="#111"/>
<rect x="257.00" y="633.80" width="8" height="4.8" fill="#111"/>
<path d="M189.0,642.90Q189.0,647.90 194.0,647.90H263.5" stroke="#a5502c" stroke-width="4.8" fill="none" stroke-linejoin="miter"/>
<path d="M189.0,688.20Q189.0,683.20 194.0,683.20H262" stroke="#111" stroke-width="4.8" fill="none" stroke-linejoin="miter"/>
<text transform="translate(221.00,573.60) scale(0.86,1)" font-size="9.02" text-anchor="start" fill="#111">S6</text>
<text transform="translate(221.00,585.50) scale(0.86,1)" font-size="9.02" text-anchor="start" fill="#111">S3</text>
<text transform="translate(221.00,597.10) scale(0.86,1)" font-size="9.02" text-anchor="start" fill="#111">1/13</text>
<text transform="translate(221.00,633.00) scale(0.86,1)" font-size="9.02" text-anchor="start" fill="#111">S4</text>
<text transform="translate(221.00,644.70) scale(0.86,1)" font-size="9.02" text-anchor="start" fill="#111">1/11</text>
<text transform="translate(221.00,680.00) scale(0.86,1)" font-size="9.02" text-anchor="start" fill="#111">S7</text>
<path d="M263.5,624H249.1V683" stroke="#111" stroke-width="4.4" fill="none" stroke-linejoin="miter"/>
<circle cx="249.1" cy="683.5" r="2.9" fill="#fff" stroke="#111" stroke-width="1.6"/>
<rect x="259.4" y="674.2" width="5.7000000000000455" height="18.59999999999991" fill="#111"/>
<text transform="translate(268.00,686.50) scale(0.86,1)" font-size="10.12" text-anchor="start" fill="#111">A3</text>
<rect x="282.9" y="561.4" width="39.30" height="102.10" fill="#c6d9e9" stroke="#111" stroke-width="2.0"/>
<rect x="263.6" y="570.3" width="19.30" height="82.25" fill="#fff" stroke="#111" stroke-width="1.8"/>
<path d="M263.6,582.05H282.9" stroke="#111" stroke-width="1.8" fill="none"/>
<path d="M263.6,593.8H282.9" stroke="#111" stroke-width="1.8" fill="none"/>
<path d="M263.6,605.55H282.9" stroke="#111" stroke-width="1.8" fill="none"/>
<path d="M263.6,617.3H282.9" stroke="#111" stroke-width="1.8" fill="none"/>
<path d="M263.6,629.05H282.9" stroke="#111" stroke-width="1.8" fill="none"/>
<path d="M263.6,640.8H282.9" stroke="#111" stroke-width="1.8" fill="none"/>
<text transform="translate(273.25,579.27) scale(0.86,1)" font-size="9.46" text-anchor="middle" fill="#111">1</text>
<text transform="translate(273.25,591.02) scale(0.86,1)" font-size="9.46" text-anchor="middle" fill="#111">2</text>
<text transform="translate(273.25,602.77) scale(0.86,1)" font-size="9.46" text-anchor="middle" fill="#111">3</text>
<text transform="translate(273.25,626.27) scale(0.86,1)" font-size="9.46" text-anchor="middle" fill="#111">4</text>
<text transform="translate(273.25,638.02) scale(0.86,1)" font-size="9.46" text-anchor="middle" fill="#111">5</text>
<text transform="translate(273.25,649.77) scale(0.86,1)" font-size="9.46" text-anchor="middle" fill="#111">6</text>
<path d="M265.3,561.4H280" stroke="#111" stroke-width="1.3" fill="none"/>
<path d="M279.3,556.1L270.8,561.4L279.3,566.6999999999999M275.3,556.1L266.8,561.4L275.3,566.6999999999999" stroke="#111" stroke-width="1.3" fill="none"/>
<path d="M313.2,571V651.6M282.9,624.4H313.2" stroke="#111" stroke-width="1.35" fill="none"/>
<path d="M301.5,571H313.2" stroke="#111" stroke-width="1.35" fill="none"/>
<path d="M301.5,588.7H313.2" stroke="#111" stroke-width="1.35" fill="none"/>
<path d="M301.5,604H313.2" stroke="#111" stroke-width="1.35" fill="none"/>
<path d="M301.5,635.7H313.2" stroke="#111" stroke-width="1.35" fill="none"/>
<path d="M301.5,651.6H313.2" stroke="#111" stroke-width="1.35" fill="none"/>
<path d="M282.9,576.2H291V571H301.5M282.9,587.9H301.5M282.9,599.7H291V604H301.5" stroke="#111" stroke-width="1.35" fill="none"/>
<path d="M282.9,634.9H301.5M282.9,646.7H291V651.6H301.5" stroke="#111" stroke-width="1.35" fill="none"/>
<circle cx="301.5" cy="571" r="7.3" fill="#efe896" stroke="#111" stroke-width="1.5"/>
<path d="M296.34,565.84L306.66,576.16M306.66,565.84L296.34,576.16" stroke="#111" stroke-width="1.3"/>
<circle cx="301.5" cy="588.7" r="7.3" fill="#efe896" stroke="#111" stroke-width="1.5"/>
<path d="M296.34,583.54L306.66,593.86M306.66,583.54L296.34,593.86" stroke="#111" stroke-width="1.3"/>
<circle cx="301.5" cy="604" r="7.3" fill="#efe896" stroke="#111" stroke-width="1.5"/>
<path d="M296.34,598.84L306.66,609.16M306.66,598.84L296.34,609.16" stroke="#111" stroke-width="1.3"/>
<circle cx="301.5" cy="635.7" r="7.3" fill="#efe896" stroke="#111" stroke-width="1.5"/>
<path d="M296.34,630.54L306.66,640.86M306.66,630.54L296.34,640.86" stroke="#111" stroke-width="1.3"/>
<circle cx="301.5" cy="651.6" r="7.3" fill="#efe896" stroke="#111" stroke-width="1.5"/>
<path d="M296.34,646.44L306.66,656.76M306.66,646.44L296.34,656.76" stroke="#111" stroke-width="1.3"/>
<path d="M359.1,582.7H364.90000000000003M364.90000000000003,582.7L370.1,577.2M364.90000000000003,582.7L370.1,588.2" stroke="#111" stroke-width="1.3" fill="none"/>
<rect x="357.3" y="590.3" width="14.00" height="75.00" fill="#fff" stroke="#111" stroke-width="1.3"/>
<path d="M362.7,590.3V619M362.7,636.7V665.3" stroke="#111" stroke-width="1.2" fill="none"/>
<path d="M362.7,600H371.3" stroke="#111" stroke-width="1.2" fill="none"/>
<path d="M362.7,609.3H371.3" stroke="#111" stroke-width="1.2" fill="none"/>
<path d="M362.7,646.3H371.3" stroke="#111" stroke-width="1.2" fill="none"/>
<path d="M362.7,655.3H371.3" stroke="#111" stroke-width="1.2" fill="none"/>
<rect x="359.3" y="619" width="12.00" height="17.70" fill="#fff" stroke="#111" stroke-width="1.3"/>
<path d="M359.3,625H363.3V627.3H369.7V630.7H359.3" stroke="#111" stroke-width="1.3" fill="none"/>
<text transform="translate(367.00,598.35) scale(0.86,1)" font-size="8.80" text-anchor="middle" fill="#111">1</text>
<text transform="translate(367.00,607.85) scale(0.86,1)" font-size="8.80" text-anchor="middle" fill="#111">2</text>
<text transform="translate(367.00,617.35) scale(0.86,1)" font-size="8.80" text-anchor="middle" fill="#111">3</text>
<text transform="translate(367.00,644.70) scale(0.86,1)" font-size="8.80" text-anchor="middle" fill="#111">4</text>
<text transform="translate(367.00,654.00) scale(0.86,1)" font-size="8.80" text-anchor="middle" fill="#111">5</text>
<text transform="translate(367.00,663.50) scale(0.86,1)" font-size="8.80" text-anchor="middle" fill="#111">6</text>
<path d="M484.0,73.50L490.0,67.50H571.0V103H490.0L484.0,109.00" stroke="#777" stroke-width="4.8" fill="none" stroke-linejoin="miter"/>
<path d="M484.0,73.50L490.0,67.50H571.0V103H490.0L484.0,109.00" stroke="#fff" stroke-width="3.1999999999999997" fill="none" stroke-linejoin="miter"/>
<path d="M484.0,85.40L490.0,79.40H571.0" stroke="#777" stroke-width="4.8" fill="none" stroke-linejoin="miter"/>
<path d="M484.0,85.40L490.0,79.40H571.0" stroke="#fff" stroke-width="3.1999999999999997" fill="none" stroke-linejoin="miter"/>
<path d="M484.0,97.00L490.0,91.00H560.0L571.0,79.40" stroke="#777" stroke-width="4.8" fill="none" stroke-linejoin="miter"/>
<path d="M484.0,97.00L490.0,91.00H560.0L571.0,79.40" stroke="#fff" stroke-width="3.1999999999999997" fill="none" stroke-linejoin="miter"/>
<text transform="translate(530.00,64.30) scale(0.86,1)" font-size="9.02" text-anchor="start" fill="#111">3</text>
<text transform="translate(530.00,76.20) scale(0.86,1)" font-size="9.02" text-anchor="start" fill="#111">5</text>
<text transform="translate(530.00,87.80) scale(0.86,1)" font-size="9.02" text-anchor="start" fill="#111">6</text>
<text transform="translate(530.00,99.80) scale(0.86,1)" font-size="9.02" text-anchor="start" fill="#111">1/9</text>
<circle cx="571.0" cy="79.4" r="3.3" fill="#fff" stroke="#111" stroke-width="1.8"/>
<text transform="translate(577.50,82.60) scale(0.86,1)" font-size="9.90" text-anchor="start" fill="#111">S1</text>
<rect x="501.00" y="65.10" width="7" height="4.8" fill="#111"/>
<rect x="527.50" y="65.10" width="7" height="4.8" fill="#111"/>
<rect x="554.00" y="65.10" width="7" height="4.8" fill="#111"/>
<rect x="501.00" y="77.00" width="7" height="4.8" fill="#111"/>
<rect x="527.50" y="77.00" width="7" height="4.8" fill="#111"/>
<rect x="554.00" y="77.00" width="7" height="4.8" fill="#111"/>
<rect x="501.00" y="88.60" width="7" height="4.8" fill="#111"/>
<rect x="527.50" y="88.60" width="7" height="4.8" fill="#111"/>
<rect x="554.00" y="88.60" width="7" height="4.8" fill="#111"/>
<rect x="501.00" y="100.60" width="7" height="4.8" fill="#111"/>
<rect x="527.50" y="100.60" width="7" height="4.8" fill="#111"/>
<rect x="554.00" y="100.60" width="7" height="4.8" fill="#111"/>
<rect x="568.7" y="86.2" width="4.6" height="6.5" fill="#111"/>
<path d="M484.0,168.00L490.0,162.00H571.0V185.5H490.0L484.0,191.50" stroke="#777" stroke-width="4.8" fill="none" stroke-linejoin="miter"/>
<path d="M484.0,168.00L490.0,162.00H571.0V185.5H490.0L484.0,191.50" stroke="#fff" stroke-width="3.1999999999999997" fill="none" stroke-linejoin="miter"/>
<path d="M484.0,180.00L490.0,174.00H571.0" stroke="#777" stroke-width="4.8" fill="none" stroke-linejoin="miter"/>
<path d="M484.0,180.00L490.0,174.00H571.0" stroke="#fff" stroke-width="3.1999999999999997" fill="none" stroke-linejoin="miter"/>
<text transform="translate(530.00,158.80) scale(0.86,1)" font-size="9.02" text-anchor="start" fill="#111">1/14</text>
<text transform="translate(530.00,170.80) scale(0.86,1)" font-size="9.02" text-anchor="start" fill="#111">5</text>
<text transform="translate(530.00,182.30) scale(0.86,1)" font-size="9.02" text-anchor="start" fill="#111">6</text>
<circle cx="571.0" cy="174" r="3.3" fill="#fff" stroke="#111" stroke-width="1.8"/>
<text transform="translate(577.50,177.20) scale(0.86,1)" font-size="9.90" text-anchor="start" fill="#111">S2</text>
<path d="M484.0,262.60L490.0,256.60H571.0V280H490.0L484.0,286.00" stroke="#12a048" stroke-width="4.8" fill="none" stroke-linejoin="miter"/>
<path d="M484.0,274.60L490.0,268.60H571.0" stroke="#12a048" stroke-width="4.8" fill="none" stroke-linejoin="miter"/>
<text transform="translate(530.00,253.40) scale(0.86,1)" font-size="9.02" text-anchor="start" fill="#111">1/5</text>
<text transform="translate(530.00,265.40) scale(0.86,1)" font-size="9.02" text-anchor="start" fill="#111">10/5</text>
<text transform="translate(530.00,276.80) scale(0.86,1)" font-size="9.02" text-anchor="start" fill="#111">11/2</text>
<circle cx="571.0" cy="268.6" r="3.3" fill="#fff" stroke="#111" stroke-width="1.8"/>
<text transform="translate(577.50,271.80) scale(0.86,1)" font-size="9.90" text-anchor="start" fill="#111">S3</text>
<path d="M484.0,368.70L490.0,362.70H571.0V386.6H490.0L484.0,392.60" stroke="#f29a2e" stroke-width="4.8" fill="none" stroke-linejoin="miter"/>
<path d="M484.0,381.20L490.0,375.20H571.0" stroke="#f29a2e" stroke-width="4.8" fill="none" stroke-linejoin="miter"/>
<text transform="translate(530.00,359.50) scale(0.86,1)" font-size="9.02" text-anchor="start" fill="#111">1/2</text>
<text transform="translate(530.00,372.00) scale(0.86,1)" font-size="9.02" text-anchor="start" fill="#111">10/2</text>
<text transform="translate(530.00,383.40) scale(0.86,1)" font-size="9.02" text-anchor="start" fill="#111">11/5</text>
<circle cx="571.0" cy="375.2" r="3.3" fill="#fff" stroke="#111" stroke-width="1.8"/>
<text transform="translate(577.50,378.40) scale(0.86,1)" font-size="9.90" text-anchor="start" fill="#111">S4</text>
<rect x="488.00" y="360.30" width="10.6" height="4.8" fill="#111"/>
<rect x="515.30" y="360.30" width="10.6" height="4.8" fill="#111"/>
<rect x="541.20" y="360.30" width="10.6" height="4.8" fill="#111"/>
<rect x="568.7" y="360.5" width="4.6" height="12" fill="#111"/>
<rect x="508.00" y="372.80" width="7.5" height="4.8" fill="#111"/>
<rect x="535.20" y="372.80" width="7.5" height="4.8" fill="#111"/>
<rect x="561.80" y="372.80" width="7.5" height="4.8" fill="#111"/>
<rect x="508.00" y="384.20" width="7.5" height="4.8" fill="#111"/>
<rect x="535.20" y="384.20" width="7.5" height="4.8" fill="#111"/>
<rect x="561.80" y="384.20" width="7.5" height="4.8" fill="#111"/>
<path d="M484.0,463.80L490.0,457.80H571.0V481.6H490.0L484.0,487.60" stroke="#ede130" stroke-width="4.8" fill="none" stroke-linejoin="miter"/>
<path d="M484.0,476.00L490.0,470.00H571.0" stroke="#ede130" stroke-width="4.8" fill="none" stroke-linejoin="miter"/>
<text transform="translate(530.00,454.60) scale(0.86,1)" font-size="9.02" text-anchor="start" fill="#111">13</text>
<text transform="translate(530.00,466.80) scale(0.86,1)" font-size="9.02" text-anchor="start" fill="#111">10/1</text>
<text transform="translate(530.00,478.40) scale(0.86,1)" font-size="9.02" text-anchor="start" fill="#111">1/15</text>
<circle cx="571.0" cy="470" r="3.3" fill="#fff" stroke="#111" stroke-width="1.8"/>
<text transform="translate(577.50,473.20) scale(0.86,1)" font-size="9.90" text-anchor="start" fill="#111">S5</text>
<path d="M484.0,558.90L490.0,552.90H571.0V588.1H490.0L484.0,594.10" stroke="#e3262b" stroke-width="4.8" fill="none" stroke-linejoin="miter"/>
<path d="M484.0,570.90L490.0,564.90H571.0" stroke="#e3262b" stroke-width="4.8" fill="none" stroke-linejoin="miter"/>
<path d="M484.0,582.60L490.0,576.60H560.0L571.0,564.90" stroke="#e3262b" stroke-width="4.8" fill="none" stroke-linejoin="miter"/>
<text transform="translate(530.00,549.70) scale(0.86,1)" font-size="9.02" text-anchor="start" fill="#111">1/12</text>
<text transform="translate(530.00,561.70) scale(0.86,1)" font-size="9.02" text-anchor="start" fill="#111">9</text>
<text transform="translate(530.00,573.40) scale(0.86,1)" font-size="9.02" text-anchor="start" fill="#111">10/6</text>
<text transform="translate(530.00,584.90) scale(0.86,1)" font-size="9.02" text-anchor="start" fill="#111">11/1</text>
<circle cx="571.0" cy="564.9" r="3.3" fill="#fff" stroke="#111" stroke-width="1.8"/>
<text transform="translate(577.50,568.10) scale(0.86,1)" font-size="9.90" text-anchor="start" fill="#111">S6</text>
<path d="M484.0,665.20L490.0,659.20H571.0V682.6H490.0L484.0,688.60" stroke="#111" stroke-width="4.8" fill="none" stroke-linejoin="miter"/>
<path d="M484.0,677.00L490.0,671.00H571.0" stroke="#111" stroke-width="4.8" fill="none" stroke-linejoin="miter"/>
<text transform="translate(530.00,656.00) scale(0.86,1)" font-size="9.02" text-anchor="start" fill="#111">15</text>
<text transform="translate(530.00,667.80) scale(0.86,1)" font-size="9.02" text-anchor="start" fill="#111">A5</text>
<text transform="translate(530.00,679.40) scale(0.86,1)" font-size="9.02" text-anchor="start" fill="#111">A3</text>
<circle cx="571.0" cy="671" r="3.3" fill="#fff" stroke="#111" stroke-width="1.8"/>
<text transform="translate(577.50,674.20) scale(0.86,1)" font-size="9.90" text-anchor="start" fill="#111">S7</text>
<path d="M734.0,84.60Q734.0,79.60 739.0,79.60H808" stroke="#ede130" stroke-width="4.8" fill="none" stroke-linejoin="miter"/>
<text transform="translate(766.00,76.40) scale(0.86,1)" font-size="9.02" text-anchor="start" fill="#111">13</text>
<path d="M808,91H787V126H796L808,136" stroke="#111" stroke-width="4.2" fill="none" stroke-linejoin="miter"/>
<path d="M808,138H787V185L819,197.8" stroke="#111" stroke-width="4.2" fill="none" stroke-linejoin="miter"/>
<path d="M807.5,256.7H787V206L819,197.8" stroke="#111" stroke-width="4.2" fill="none" stroke-linejoin="miter"/>
<path d="M734.0,145.00Q734.0,150.00 739.0,150.00H808" stroke="#ede130" stroke-width="4.8" fill="none" stroke-linejoin="miter"/>
<path d="M734.0,167.00Q734.0,162.00 739.0,162.00H797L808,150" stroke="#ede130" stroke-width="4.8" fill="none" stroke-linejoin="miter"/>
<text transform="translate(766.00,146.80) scale(0.86,1)" font-size="9.02" text-anchor="start" fill="#111">12</text>
<text transform="translate(766.00,158.80) scale(0.86,1)" font-size="9.02" text-anchor="start" fill="#111">S5</text>
<circle cx="819" cy="197.8" r="2.9" fill="#fff" stroke="#111" stroke-width="1.6"/>
<path d="M821,197.8H830" stroke="#111" stroke-width="5.2" fill="none" stroke-linejoin="miter"/>
<rect x="829" y="188" width="6" height="19" fill="#111"/>
<text transform="translate(840.80,200.80) scale(0.86,1)" font-size="10.56" text-anchor="start" fill="#111">A4</text>
<rect x="826" y="66.6" width="34.00" height="36.40" fill="#c6d9e9" stroke="#111" stroke-width="2.0"/>
<path d="M826,79.2H836.5V73.6H847.3V79M826,90.7H836.5V97H847.3V91" stroke="#111" stroke-width="1.4" fill="none"/>
<circle cx="847" cy="85" r="6.8" fill="#efe896" stroke="#111" stroke-width="1.5"/>
<path d="M842.19,80.19L851.81,89.81M851.81,80.19L842.19,89.81" stroke="#111" stroke-width="1.3"/>
<rect x="808" y="72.6" width="18.00" height="24.40" fill="#fff" stroke="#111" stroke-width="1.8"/>
<path d="M808,85H826" stroke="#111" stroke-width="1.8" fill="none"/>
<path d="M819.52,73.80L814.48,78.80L819.52,84.20" stroke="#111" stroke-width="1.3" fill="none"/>
<path d="M819.52,86.20L814.48,91.00L819.52,96.20" stroke="#111" stroke-width="1.3" fill="none"/>
<circle cx="882" cy="84" r="8.8" fill="#fff" stroke="#111" stroke-width="1.2"/>
<text transform="translate(882.00,87.40) scale(0.86,1)" font-size="10.34" text-anchor="middle" fill="#111">12</text>
<rect x="826" y="125.6" width="34.00" height="36.40" fill="#c6d9e9" stroke="#111" stroke-width="2.0"/>
<path d="M826,138.2H836.5V132.6H847.3V138M826,149.7H836.5V156H847.3V150" stroke="#111" stroke-width="1.4" fill="none"/>
<circle cx="847" cy="144" r="6.8" fill="#efe896" stroke="#111" stroke-width="1.5"/>
<path d="M842.19,139.19L851.81,148.81M851.81,139.19L842.19,148.81" stroke="#111" stroke-width="1.3"/>
<rect x="808" y="131.6" width="18.00" height="24.40" fill="#fff" stroke="#111" stroke-width="1.8"/>
<path d="M808,144H826" stroke="#111" stroke-width="1.8" fill="none"/>
<path d="M819.52,132.80L814.48,137.80L819.52,143.20" stroke="#111" stroke-width="1.3" fill="none"/>
<path d="M819.52,145.20L814.48,150.00L819.52,155.20" stroke="#111" stroke-width="1.3" fill="none"/>
<circle cx="879.3" cy="142.4" r="8.8" fill="#fff" stroke="#111" stroke-width="1.2"/>
<text transform="translate(879.30,145.80) scale(0.86,1)" font-size="10.34" text-anchor="middle" fill="#111">13</text>
<circle cx="873.4" cy="214.4" r="8.8" fill="#fff" stroke="#111" stroke-width="1.2"/>
<text transform="translate(873.40,217.80) scale(0.86,1)" font-size="10.34" text-anchor="middle" fill="#111">14</text>
<path d="M734.0,273.70Q734.0,268.70 739.0,268.70H807.5" stroke="#ede130" stroke-width="4.8" fill="none" stroke-linejoin="miter"/>
<rect x="746.00" y="266.30" width="7.5" height="4.8" fill="#1c82c4"/>
<rect x="773.00" y="266.30" width="7.5" height="4.8" fill="#1c82c4"/>
<rect x="800.00" y="266.30" width="7.5" height="4.8" fill="#1c82c4"/>
<path d="M734.0,285.40Q734.0,280.40 739.0,280.40H807.5" stroke="#8aa" stroke-width="4.8" fill="none" stroke-linejoin="miter"/>
<path d="M734.0,285.40Q734.0,280.40 739.0,280.40H807.5" stroke="#fff" stroke-width="3.1999999999999997" fill="none" stroke-linejoin="miter"/>
<rect x="754.50" y="278.00" width="7" height="4.8" fill="#1c82c4"/>
<rect x="781.50" y="278.00" width="7" height="4.8" fill="#1c82c4"/>
<text transform="translate(766.00,265.50) scale(0.86,1)" font-size="9.02" text-anchor="start" fill="#111">1/8</text>
<text transform="translate(766.00,277.20) scale(0.86,1)" font-size="9.02" text-anchor="start" fill="#111">1/10</text>
<rect x="827.5" y="231.6" width="65.2" height="59.3" fill="#0ba9e3" stroke="#111" stroke-width="2.2"/>
<rect x="807.5" y="250.3" width="19.40" height="35.40" fill="#fff" stroke="#111" stroke-width="1.8"/>
<path d="M807.5,262H826.9" stroke="#111" stroke-width="1.8" fill="none"/>
<path d="M807.5,274H826.9" stroke="#111" stroke-width="1.8" fill="none"/>
<text transform="translate(817.20,259.25) scale(0.86,1)" font-size="10.34" text-anchor="middle" fill="#111">1</text>
<text transform="translate(817.20,271.10) scale(0.86,1)" font-size="10.34" text-anchor="middle" fill="#111">2</text>
<text transform="translate(817.20,282.95) scale(0.86,1)" font-size="10.34" text-anchor="middle" fill="#111">3</text>
<path d="M807.5,239.2H825" stroke="#111" stroke-width="1.3" fill="none"/>
<path d="M821.5,233.89999999999998L813,239.2L821.5,244.5M817.5,233.89999999999998L809,239.2L817.5,244.5" stroke="#111" stroke-width="1.3" fill="none"/>
<path d="M826.9,256.8H838.2V243.7H851M872,243.7H883.1V250.7M883.1,256.8V279.7H826.9M826.9,268.2H855.5M858.3,261.4L865.3,268.2H883.1M883.1,256.8L887.3,249.8" stroke="#0a3d68" stroke-width="1.3" fill="none"/>
<path d="M884.5,250.5L887.8,249.3L887,252.5" stroke="#0a3d68" stroke-width="1.0" fill="none"/>
<circle cx="861.9" cy="243.7" r="8.9" fill="#bcbcbc" stroke="#0b2a55" stroke-width="1.2"/>
<rect x="850.1" y="240.4" width="3.1" height="6.6" fill="#ddd" stroke="#0b2a55" stroke-width="0.9"/><rect x="870.5" y="240.4" width="3.1" height="6.6" fill="#ddd" stroke="#0b2a55" stroke-width="0.9"/>
<circle cx="846.3" cy="359.4" r="8.8" fill="#fff" stroke="#111" stroke-width="1.2"/>
<text transform="translate(846.30,362.80) scale(0.86,1)" font-size="10.34" text-anchor="middle" fill="#111">15</text>
<path d="M734.0,403.60Q734.0,398.60 739.0,398.60H807.5" stroke="#dca2ca" stroke-width="4.8" fill="none" stroke-linejoin="miter"/>
<rect x="746.50" y="396.20" width="7" height="4.8" fill="#111"/>
<rect x="773.50" y="396.20" width="7" height="4.8" fill="#111"/>
<rect x="800.50" y="396.20" width="7" height="4.8" fill="#111"/>
<path d="M734.0,415.80Q734.0,410.80 739.0,410.80H807.5" stroke="#111" stroke-width="4.8" fill="none" stroke-linejoin="miter"/>
<text transform="translate(766.00,395.40) scale(0.86,1)" font-size="9.02" text-anchor="start" fill="#111">1/4</text>
<text transform="translate(766.00,407.60) scale(0.86,1)" font-size="9.02" text-anchor="start" fill="#111">S7</text>
<rect x="826.3" y="381.8" width="42.3" height="46.5" fill="#0ba9e3" stroke="#111" stroke-width="2"/>
<path d="M826.3,398.6H838V387.5H854V396M826.3,410.8H838V422H854V414" stroke="#0a3d68" stroke-width="1.2" fill="none"/>
<rect x="850.5" y="393" width="7" height="3" fill="#ddd" stroke="#111" stroke-width="0.8"/><rect x="850.5" y="414" width="7" height="3" fill="#ddd" stroke="#111" stroke-width="0.8"/>
<circle cx="854" cy="405" r="9.3" fill="#bcbcbc" stroke="#111" stroke-width="1.2"/>
<rect x="807.5" y="392" width="18.80" height="25.20" fill="#fff" stroke="#111" stroke-width="1.8"/>
<path d="M807.5,404.6H826.3" stroke="#111" stroke-width="1.8" fill="none"/>
<path d="M819.53,393.20L814.27,398.30L819.53,403.80" stroke="#111" stroke-width="1.3" fill="none"/>
<path d="M819.53,405.80L814.27,410.90L819.53,416.40" stroke="#111" stroke-width="1.3" fill="none"/>
<path d="M734.0,499.30Q734.0,494.30 739.0,494.30H817" stroke="#111" stroke-width="4.8" fill="none" stroke-linejoin="miter"/>
<path d="M734.0,510.90Q734.0,505.90 739.0,505.90H808.4L817,496" stroke="#111" stroke-width="4.8" fill="none" stroke-linejoin="miter"/>
<text transform="translate(766.00,491.10) scale(0.86,1)" font-size="9.02" text-anchor="start" fill="#111">S7</text>
<text transform="translate(766.00,502.70) scale(0.86,1)" font-size="9.02" text-anchor="start" fill="#111">9</text>
<path d="M734.0,570.00Q734.0,565.00 739.0,565.00H817" stroke="#111" stroke-width="4.8" fill="none" stroke-linejoin="miter"/>
<rect x="755" y="562.7" width="8.8" height="4.6" fill="#fff"/>
<rect x="782.2" y="562.7" width="8.8" height="4.6" fill="#fff"/>
<rect x="809.4" y="562.7" width="8.8" height="4.6" fill="#fff"/>
<text transform="translate(766.00,561.80) scale(0.86,1)" font-size="9.02" text-anchor="start" fill="#111">7/3</text>
<path d="M734.0,629.00Q734.0,624.00 739.0,624.00H817" stroke="#111" stroke-width="4.8" fill="none" stroke-linejoin="miter"/>
<text transform="translate(766.00,620.70) scale(0.86,1)" font-size="9.02" text-anchor="start" fill="#111">5</text>
<path d="M734.0,688.10Q734.0,683.10 739.0,683.10H817" stroke="#111" stroke-width="4.8" fill="none" stroke-linejoin="miter"/>
<text transform="translate(766.00,679.90) scale(0.86,1)" font-size="9.02" text-anchor="start" fill="#111">6</text>
<path d="M821,494.3H830" stroke="#111" stroke-width="5.2" fill="none" stroke-linejoin="miter"/>
<circle cx="819.5" cy="494.3" r="2.8" fill="#fff" stroke="#111" stroke-width="1.6"/>
<rect x="829.4" y="484.3" width="6.600000000000023" height="20.0" fill="#111"/>
<text transform="translate(840.80,496.90) scale(0.86,1)" font-size="10.56" text-anchor="start" fill="#111">A5</text>
<path d="M821,565H830" stroke="#111" stroke-width="5.2" fill="none" stroke-linejoin="miter"/>
<circle cx="819.5" cy="565" r="2.8" fill="#fff" stroke="#111" stroke-width="1.6"/>
<rect x="829.4" y="555" width="6.600000000000023" height="20" fill="#111"/>
<text transform="translate(840.80,567.60) scale(0.86,1)" font-size="10.56" text-anchor="start" fill="#111">A6</text>
<path d="M821,624H830" stroke="#111" stroke-width="5.2" fill="none" stroke-linejoin="miter"/>
<circle cx="819.5" cy="624" r="2.8" fill="#fff" stroke="#111" stroke-width="1.6"/>
<rect x="829.4" y="614" width="6.600000000000023" height="20" fill="#111"/>
<text transform="translate(840.80,626.60) scale(0.86,1)" font-size="10.56" text-anchor="start" fill="#111">A7</text>
<path d="M821,683.1H830" stroke="#111" stroke-width="5.2" fill="none" stroke-linejoin="miter"/>
<circle cx="819.5" cy="683.1" r="2.8" fill="#fff" stroke="#111" stroke-width="1.6"/>
<rect x="829.4" y="673.1" width="6.600000000000023" height="20.0" fill="#111"/>
<text transform="translate(840.80,685.70) scale(0.86,1)" font-size="10.56" text-anchor="start" fill="#111">A8</text>
<path d="M185.75,46V730.5H730.5V70M481.5,70V730.5" stroke="#61615c" stroke-width="8.8" fill="none" stroke-linejoin="miter"/>
</svg></body></html>
